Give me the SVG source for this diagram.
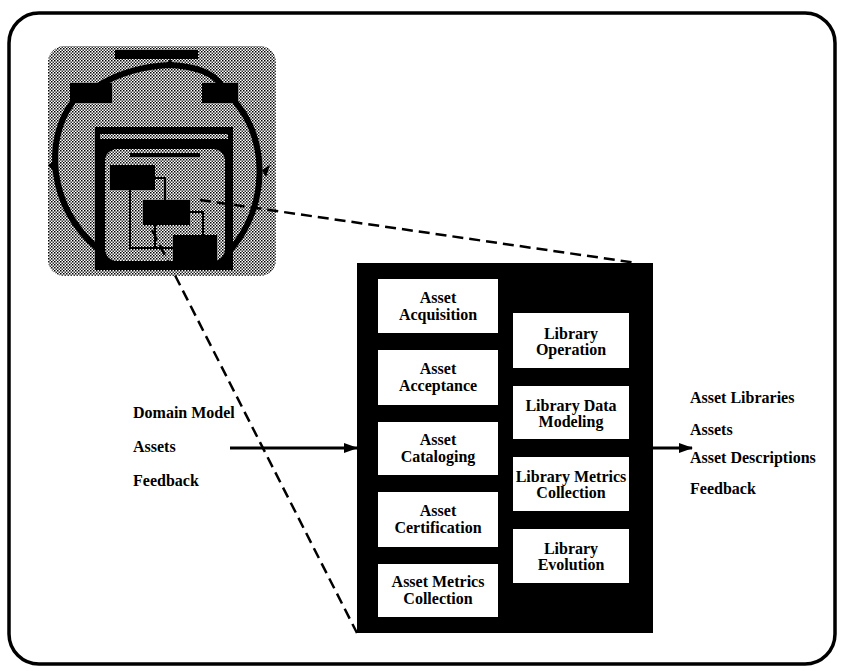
<svg xmlns="http://www.w3.org/2000/svg" width="841" height="671" viewBox="0 0 841 671">
<style>
.t{font-family:"Liberation Serif","Times New Roman",serif;font-weight:bold;font-size:16px;fill:#000}
.c{text-anchor:middle}
.box{fill:#fff}
.dash{fill:none;stroke:#000;stroke-width:2.5;stroke-dasharray:11 6}
.arr{fill:none;stroke:#000;stroke-width:3}
.th{fill:none;stroke:#000;stroke-width:6;stroke-linecap:round}
.tl{fill:none;stroke:#000;stroke-width:2}
</style>
<defs>
<pattern id="dots" width="3" height="3" patternUnits="userSpaceOnUse">
<rect width="3" height="3" fill="#fff"/>
<rect width="1.5" height="1.5" fill="#000"/>
<rect x="1.5" y="1.5" width="1.5" height="1.5" fill="#000" opacity="0.8"/>
</pattern>
<marker id="ah" markerWidth="14" markerHeight="10" refX="13" refY="5" orient="auto" markerUnits="userSpaceOnUse">
<path d="M0,0 L14,5 L0,10 Z" fill="#000"/>
</marker>
</defs>
<rect width="841" height="671" fill="#fff"/>
<rect id="frame" x="9" y="13" width="826" height="651" rx="30" fill="none" stroke="#000" stroke-width="3.5"/>

<g id="thumbnail">
<rect x="48" y="46" width="228" height="230" rx="16" fill="url(#dots)"/>
<rect x="115" y="50" width="83" height="9" fill="#000"/>
<rect x="70" y="83" width="42" height="20" fill="#000"/>
<rect x="202" y="83" width="36" height="20" fill="#000"/>
<path class="th" d="M98 86 Q128 67 170 65 Q210 67 222 86"/>
<path d="M164 68 L170 59 L176 68 Z" fill="#000"/>
<path class="th" d="M72 103 C45 140 48 205 97 248"/>
<path class="th" d="M236 103 C268 140 268 205 232 248"/>
<path d="M48 165 L56 160 L54 172 Z M262 170 L270 165 L266 177 Z" fill="#000"/>
<rect x="95" y="127" width="138" height="143" fill="#000"/>
<rect x="100" y="134" width="128" height="5" fill="url(#dots)"/>
<rect x="105" y="149" width="120" height="112" rx="12" fill="url(#dots)"/>
<rect x="130" y="153" width="70" height="4" fill="#000"/>
<rect x="110" y="165" width="45" height="25" fill="#000"/>
<rect x="143" y="200" width="47" height="25" fill="#000"/>
<rect x="173" y="235" width="44" height="27" fill="#000"/>
<path class="tl" d="M155 178 H165 V200 M190 212 H203 V235 M130 190 V248 H173 M155 225 V248"/>
</g>

<g id="main-box">
<rect x="357" y="263" width="296" height="370" fill="#000"/>
</g>

<g id="asset-acquisition">
<rect class="box" x="378" y="279" width="120" height="54"/>
<text class="t c" x="438" y="303">Asset</text>
<text class="t c" x="438" y="320">Acquisition</text>
</g>
<g id="asset-acceptance">
<rect class="box" x="378" y="350" width="120" height="55"/>
<text class="t c" x="438" y="374">Asset</text>
<text class="t c" x="438" y="391">Acceptance</text>
</g>
<g id="asset-cataloging">
<rect class="box" x="378" y="422" width="120" height="53"/>
<text class="t c" x="438" y="445">Asset</text>
<text class="t c" x="438" y="462">Cataloging</text>
</g>
<g id="asset-certification">
<rect class="box" x="378" y="492" width="120" height="55"/>
<text class="t c" x="438" y="516">Asset</text>
<text class="t c" x="438" y="533">Certification</text>
</g>
<g id="asset-metrics-collection">
<rect class="box" x="378" y="564" width="120" height="53"/>
<text class="t c" x="438" y="587">Asset Metrics</text>
<text class="t c" x="438" y="604">Collection</text>
</g>

<g id="library-operation">
<rect class="box" x="513" y="313" width="116" height="55"/>
<text class="t c" x="571" y="339">Library</text>
<text class="t c" x="571" y="355">Operation</text>
</g>
<g id="library-data-modeling">
<rect class="box" x="513" y="386" width="116" height="53"/>
<text class="t c" x="571" y="411">Library Data</text>
<text class="t c" x="571" y="427">Modeling</text>
</g>
<g id="library-metrics-collection">
<rect class="box" x="513" y="457" width="116" height="54"/>
<text class="t c" x="571" y="482">Library Metrics</text>
<text class="t c" x="571" y="498">Collection</text>
</g>
<g id="library-evolution">
<rect class="box" x="513" y="529" width="116" height="54"/>
<text class="t c" x="571" y="554">Library</text>
<text class="t c" x="571" y="570">Evolution</text>
</g>

<g id="inputs">
<text class="t" x="133" y="418">Domain Model</text>
<text class="t" x="133" y="452">Assets</text>
<text class="t" x="133" y="486">Feedback</text>
</g>
<g id="outputs">
<text class="t" x="690" y="403">Asset Libraries</text>
<text class="t" x="690" y="435">Assets</text>
<text class="t" x="690" y="463">Asset Descriptions</text>
<text class="t" x="690" y="494">Feedback</text>
</g>

<g id="connectors">
<path class="dash" d="M200 200 L637 263"/>
<path class="dash" d="M152 230 L357 633"/>
<path class="arr" d="M230 448 H357" marker-end="url(#ah)"/>
<path class="arr" d="M653 448 H692" marker-end="url(#ah)"/>
</g>
</svg>
